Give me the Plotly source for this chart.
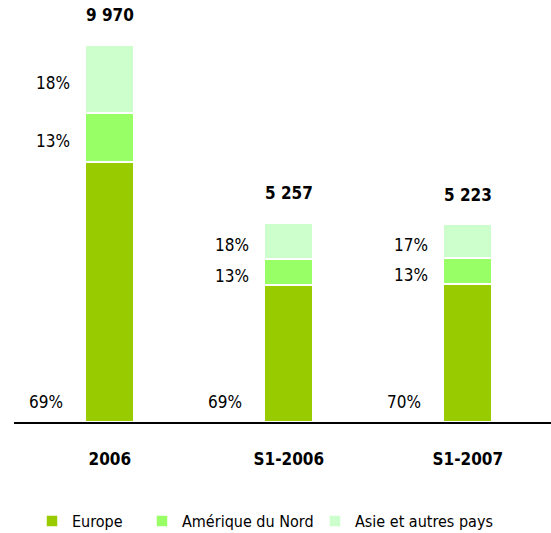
import plotly.graph_objects as go

categories = ["2006", "S1-2006", "S1-2007"]
totals = [9970, 5257, 5223]
pct_europe = [69, 69, 70]
pct_amerique = [13, 13, 13]
pct_asie = [18, 18, 17]
series_names = ["Europe", "Amérique du Nord", "Asie et autres pays"]
colors = ["#99CC00", "#99FF66", "#CCFFCC"]

FONT = "DejaVu Sans Condensed, Liberation Sans Narrow, Arial Narrow, Liberation Sans, sans-serif"

pcts = [pct_europe, pct_amerique, pct_asie]
values = [[t * p / 100 for t, p in zip(totals, ps)] for ps in pcts]
legend_ids = ["legend", "legend2", "legend3"]
legend_x = [32, 142, 315]

fig = go.Figure()
for name, vals, col, lid in zip(series_names, values, colors, legend_ids):
    fig.add_trace(go.Bar(
        x=categories, y=vals, name=name, width=0.27, legend=lid,
        marker=dict(color=col, line=dict(color="white", width=1.5)),
        hoverinfo="skip",
    ))

annotations = []
for i, cat in enumerate(categories):
    annotations.append(dict(x=i, y=totals[i], text=f"<b>{totals[i]:,}</b>".replace(",", " "),
                            showarrow=False, yanchor="bottom", yshift=18,
                            font=dict(size=17, family=FONT, color="black")))
    base = 0
    for k, (ps, vals) in enumerate(zip(pcts, values)):
        v = vals[i]
        if k == 0:
            annotations.append(dict(x=i, y=0, text=f"{ps[i]}%", showarrow=False,
                                    xanchor="right", yanchor="bottom", xshift=-45, yshift=8,
                                    font=dict(size=17, family=FONT, color="black")))
        else:
            annotations.append(dict(x=i, y=base + v / 2, text=f"{ps[i]}%", showarrow=False,
                                    xanchor="right", yanchor="middle", xshift=-38, yshift=-4,
                                    font=dict(size=17, family=FONT, color="black")))
        base += v

legend_common = dict(orientation="h", xref="container", yref="container",
                     y=12 / 533, yanchor="middle", xanchor="left",
                     font=dict(size=16, family=FONT, color="black"),
                     bgcolor="rgba(0,0,0,0)")

fig.update_layout(
    width=551, height=533,
    margin=dict(l=14, r=0, t=0, b=111),
    plot_bgcolor="white", paper_bgcolor="white",
    barmode="stack",
    showlegend=True,
    legend=dict(x=legend_x[0] / 551, **legend_common),
    legend2=dict(x=legend_x[1] / 551, **legend_common),
    legend3=dict(x=legend_x[2] / 551, **legend_common),
    annotations=annotations,
    font=dict(family=FONT, color="black"),
)
fig.update_xaxes(type="category", range=[-0.535, 2.465], showline=True, linecolor="black", linewidth=2,
                 ticks="outside", ticklen=21, tickcolor="rgba(0,0,0,0)",
                 tickfont=dict(size=17, family=FONT, color="black"),
                 tickvals=categories, ticktext=[f"<b>{c}</b>" for c in categories],
                 showgrid=False, automargin=False)
fig.update_yaxes(range=[0, 11161], visible=False, showgrid=False, automargin=False)

fig.write_html("out.html", config={"displayModeBar": False},
               post_script="document.body.style.margin='0';")
